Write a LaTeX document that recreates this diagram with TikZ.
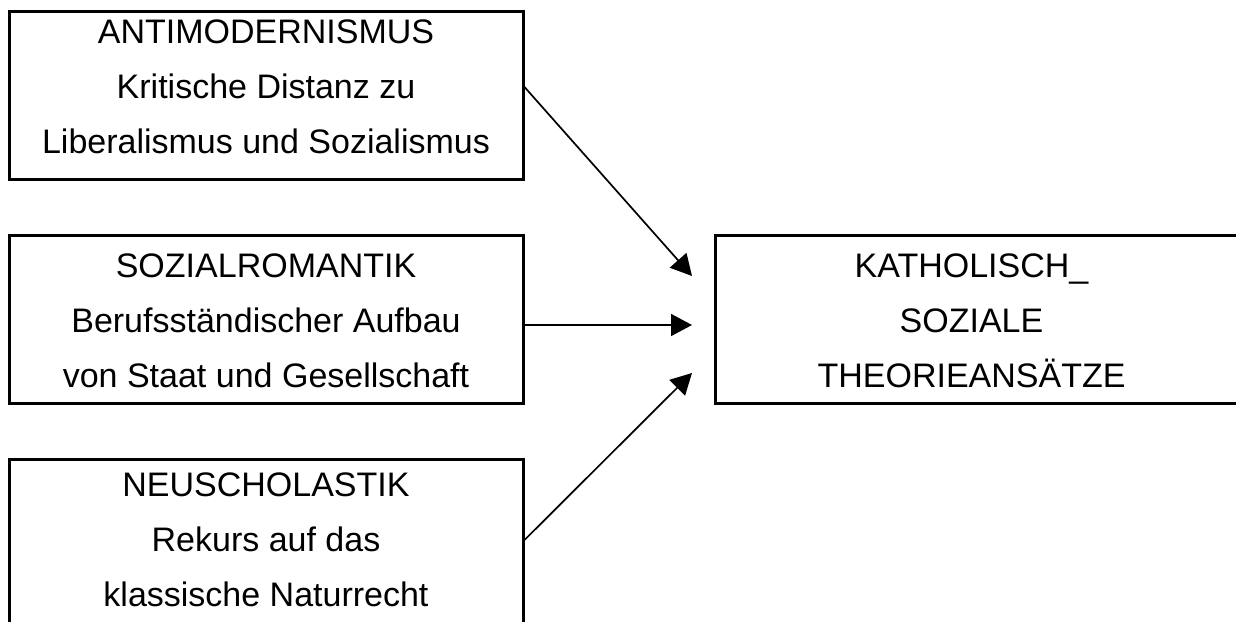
\documentclass[tikz,border=0pt]{standalone}
\usepackage{fontspec}
\setmainfont{Liberation Sans}
\usepackage{tikz}
\usetikzlibrary{arrows.meta}

\tikzset{
	box/.style={draw=black, line width=3pt, minimum width=514pt, minimum height=168pt, inner sep=0pt},
	boxtext/.style={align=center, font=\fontsize{34}{55}\selectfont},
	pfeil/.style={-{Triangle[length=21pt, width=22pt]}, line width=1.7pt}
}

\begin{document}
\begin{tikzpicture}[x=1pt, y=-1pt]
					\useasboundingbox (0, 0) rectangle (1236, 621);
					% Kaesten links
					\node[box] (anti) at (266, 95.5) {};
					\node[box] (sozial) at (266, 319.5) {};
					\node[box] (neu) at (266, 543.5) {};
					% Kasten rechts
					\node[box, minimum width=525pt] (kath) at (977.5, 319.5) {};
					\node[boxtext, yshift=9pt] (antitext) at (anti) {ANTIMODERNISMUS\\Kritische Distanz zu\\Liberalismus und Sozialismus};
					\node[boxtext, yshift=-1.5pt] (sozialtext) at (sozial) {SOZIALROMANTIK\\Berufsst\"andischer Aufbau\\von Staat und Gesellschaft};
					\node[boxtext, yshift=3.5pt] (neutext) at (neu) {NEUSCHOLASTIK\\Rekurs auf das\\klassische Naturrecht};
					\node[boxtext, xshift=-6pt, yshift=-1.5pt] (kathtext) at (kath) {KATHOLISCH\_\\SOZIALE\\THEORIEANS\"ATZE};
					% Pfeilspitzen
					\coordinate (z1) at (692, 276);
					\coordinate (z2) at (692, 325);
					\coordinate (z3) at (692, 373);
					\draw[pfeil] ([yshift=8.5pt]anti.east) -- (z1);
					\draw[pfeil] ([yshift=-5.5pt]sozial.east) -- (z2);
					\draw[pfeil] ([yshift=3.5pt]neu.east) -- (z3);
				\end{tikzpicture}
\end{document}
